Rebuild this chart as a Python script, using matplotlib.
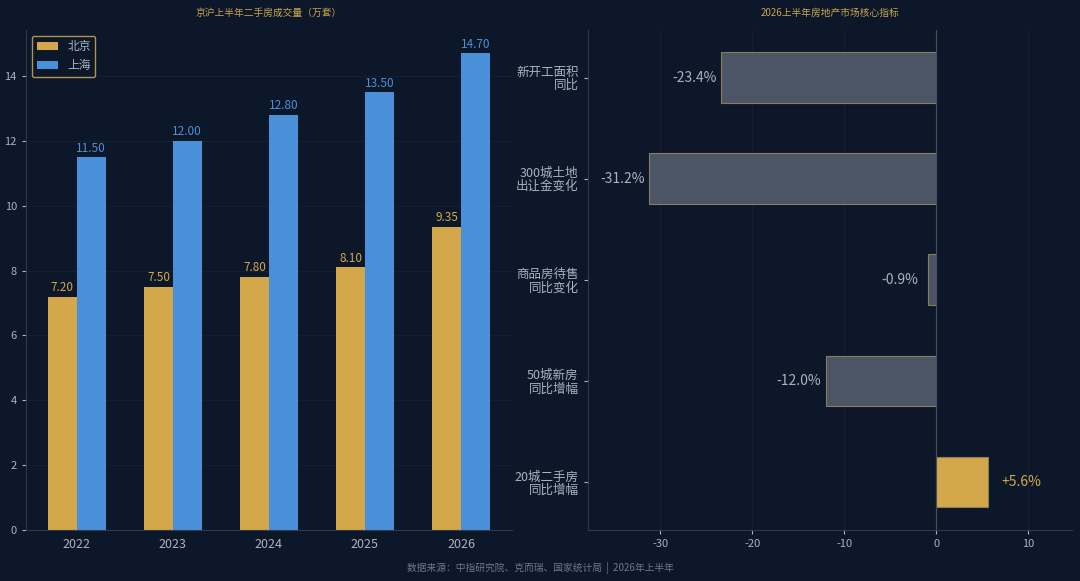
import numpy as np
import matplotlib
matplotlib.use('Agg')
import matplotlib.pyplot as plt

plt.rcParams['font.family'] = ['Noto Sans CJK SC', 'DejaVu Sans']
plt.rcParams['axes.unicode_minus'] = False

# data
years = ['2022', '2023', '2024', '2025', '2026']
beijing = [7.20, 7.50, 7.80, 8.10, 9.35]
shanghai = [11.50, 12.00, 12.80, 13.50, 14.70]

indicators = ['新开工面积\n同比', '300城土地\n出让金变化', '商品房待售\n同比变化',
              '50城新房\n同比增幅', '20城二手房\n同比增幅']
changes = [-23.4, -31.2, -0.9, -12.0, 5.6]

BG = '#0c1729'
GOLD = '#d4a84a'
TITLE = '#c8a450'
BLUE = '#4a90d9'
GRAY_BAR = '#4b5566'
TXT = '#aab2be'
GRID = '#141f31'
SPINE = '#2e3a4c'

fig = plt.figure(figsize=(10.8, 5.81), dpi=100, facecolor=BG)
ax1 = fig.add_axes([0.024, 0.088, 0.450, 0.861])
ax2 = fig.add_axes([0.544, 0.088, 0.449, 0.861])

for ax in (ax1, ax2):
    ax.set_facecolor(BG)
    for s in ('top', 'right'):
        ax.spines[s].set_visible(False)
    for s in ('left', 'bottom'):
        ax.spines[s].set_color(SPINE)
    ax.tick_params(colors=TXT, length=3)

# left: grouped bars
x = np.arange(len(years))
w = 0.3
b1 = ax1.bar(x - w / 2, beijing, w, color=GOLD, label='北京')
b2 = ax1.bar(x + w / 2, shanghai, w, color=BLUE, label='上海')
for r, v in zip(b1, beijing):
    ax1.text(r.get_x() + r.get_width() / 2, v + 0.08, f'{v:.2f}', ha='center', va='bottom',
             color=GOLD, fontsize=8.5)
for r, v in zip(b2, shanghai):
    ax1.text(r.get_x() + r.get_width() / 2, v + 0.08, f'{v:.2f}', ha='center', va='bottom',
             color=BLUE, fontsize=8.5)
ax1.set_ylim(0, max(shanghai) * 1.05)
ax1.set_xticks(x)
ax1.set_xticklabels(years, fontsize=9)
ax1.tick_params(axis='y', labelsize=8)
ax1.tick_params(axis='x', length=0, pad=6)
ax1.yaxis.grid(True, color=GRID, linewidth=0.8)
ax1.set_axisbelow(True)
ax1.set_title('京沪上半年二手房成交量（万套）', color=TITLE, fontsize=7, pad=10)
leg = ax1.legend(loc='upper left', fontsize=8.5, facecolor=BG, edgecolor='#b09450',
                 labelcolor=TXT, framealpha=1, handlelength=1.8)

# right: horizontal bars
y = np.arange(len(indicators))
cols = [GOLD if v > 0 else GRAY_BAR for v in changes]
ax2.barh(y, changes, 0.5, color=cols, edgecolor='#8a7d5e', linewidth=0.8)
for yi, v in zip(y, changes):
    if v > 0:
        ax2.text(v + 1.5, yi, f'+{v:.1f}%', ha='left', va='center', color=GOLD, fontsize=10)
    else:
        ax2.text(min(v - 0.5, -2.0), yi, f'{v:.1f}%', ha='right', va='center', color=TXT, fontsize=10)
ax2.axvline(0, color='#4a4e56', linewidth=0.8)
ax2.set_yticks(y)
ax2.set_yticklabels(indicators, fontsize=9, linespacing=1.0)
ax2.invert_yaxis()
ax2.set_xlim(-37.9, 14.8)
ax2.set_xticks([-30, -20, -10, 0, 10])
ax2.tick_params(axis='x', labelsize=8)
ax2.xaxis.grid(True, color=GRID, linewidth=0.8)
ax2.set_axisbelow(True)
ax2.set_title('2026上半年房地产市场核心指标', color=TITLE, fontsize=7, pad=10)

fig.text(0.5, 0.022, '数据来源：中指研究院、克而瑞、国家统计局  |  2026年上半年',
         ha='center', va='center', color='#6e7888', fontsize=7)

fig.savefig('out.png', dpi=100, facecolor=BG)
